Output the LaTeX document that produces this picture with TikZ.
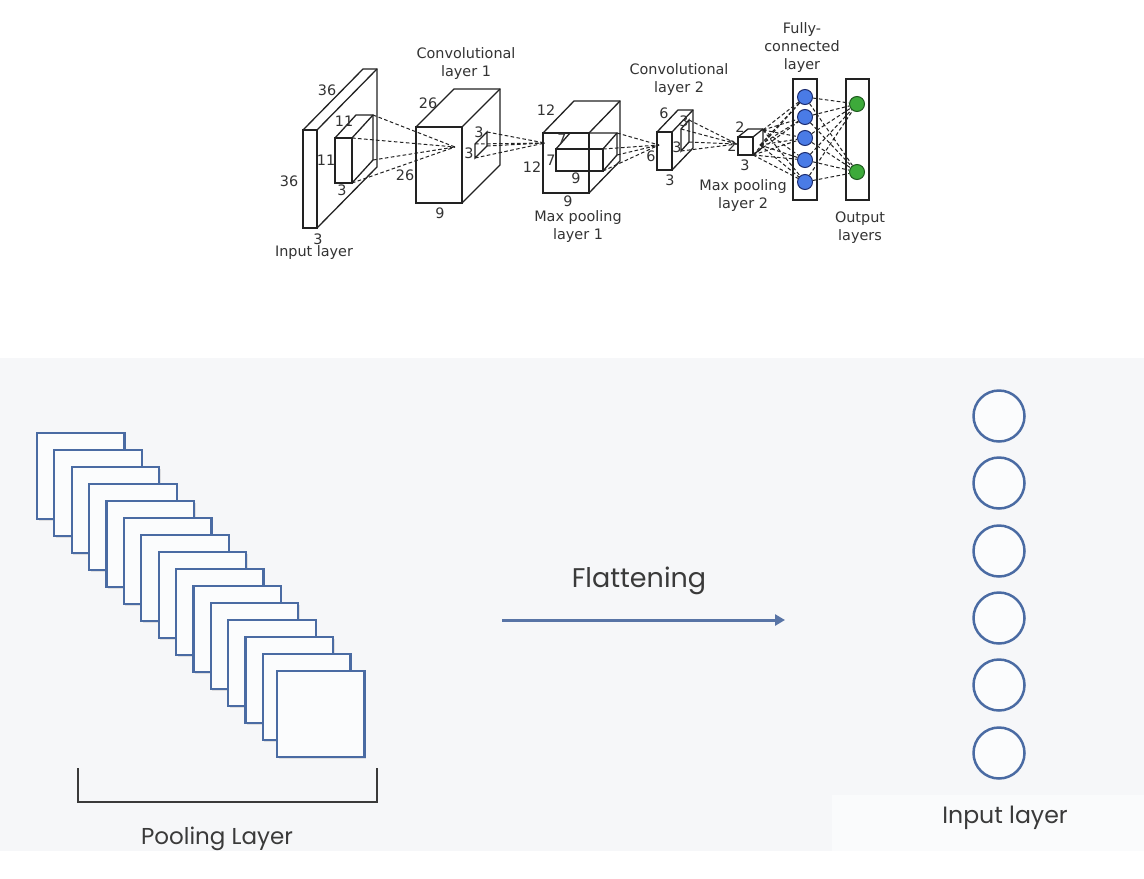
\documentclass[tikz,border=0pt]{standalone}
\usepackage{fontspec}
\setmainfont{DejaVu Sans}
\newfontfamily\pop{Poppins}
\usetikzlibrary{arrows.meta}
\definecolor{wirec}{HTML}{222222}
\definecolor{txtgray}{HTML}{333333}
\definecolor{fcblue}{HTML}{4A7BE6}
\definecolor{fcedge}{HTML}{1C2C70}
\definecolor{outgreen}{HTML}{3DAA3A}
\definecolor{outedge}{HTML}{1E5A1E}
\definecolor{panel}{HTML}{F6F7F9}
\definecolor{sqblue}{HTML}{4A6BA3}
\definecolor{sqfill}{HTML}{FBFCFD}
\definecolor{arrowc}{HTML}{5874A6}
\definecolor{btxt}{HTML}{3A3A3A}
\newcommand\cubo[6]{%
  \draw[wire] (#1,#2) rectangle ++(#3,#4);
  \draw[wire] (#1,#2) -- ++(#5,-#6) -- ++(#3,0) -- ++(0,#4) -- ++(-#5,#6);
  \draw[wire] (#1+#3,#2) -- ++(#5,-#6);}
\begin{document}
\begin{tikzpicture}[x=0.5pt,y=-0.5pt,
  wire/.style={draw=wirec,line width=0.65pt},
  dsh/.style={draw=wirec,line width=0.5pt,dash pattern=on 1.8pt off 1.2pt},
  lbl/.style={font=\fontsize{7.2}{9}\selectfont,text=txtgray,inner sep=0pt,align=center},
  fcn/.style={circle,draw=fcedge,fill=fcblue,line width=0.5pt,minimum size=7.5pt,inner sep=0pt},
  outn/.style={circle,draw=outedge,fill=outgreen,line width=0.5pt,minimum size=7.5pt,inner sep=0pt},
  sqbox/.style={draw=sqblue,fill=sqfill,line width=1.1pt},
  incirc/.style={circle,draw=sqblue,fill=sqfill,line width=1.25pt,minimum size=25.5pt,inner sep=0pt},
  btext/.style={font=\pop,text=btxt,inner sep=0pt,anchor=base}]
\useasboundingbox (0,0) rectangle (1144,878);
\fill[white] (0,0) rectangle (1144,878);

% ---------------- top CNN diagram ----------------
% input layer
\cubo{303}{130}{14}{98}{60}{61}
\cubo{335}{138}{17}{45}{21}{23}
\node[lbl] (t36a) at (327,90) {36};
\node[lbl] (t36b) at (289,181) {36};
\node[lbl] (t3a) at (318,239) {3};
\node[lbl] (t11a) at (344,121) {11};
\node[lbl] (t11b) at (326,160) {11};
\node[lbl] (t3b) at (342,190) {3};
\node[lbl] (inlab) at (314,253) {Input layer};
\coordinate (f1a) at (373,115);
\coordinate (f1b) at (352,138);
\coordinate (f1c) at (373,160);
\coordinate (f1d) at (352,183);
\coordinate (ap1) at (455,147);
\foreach \c in {f1a,f1b,f1c,f1d} \draw[dsh] (\c) -- (ap1);

% conv layer 1
\cubo{416}{127}{46}{76}{38}{38}
\draw[wire] (475,144) -- (487,132) -- (487,146) -- (475,158) -- cycle;
\node[lbl] (c1t) at (466,64) {Convolutional\\layer 1};
\node[lbl] (t26a) at (428,103) {26};
\node[lbl] (t26b) at (405,175) {26};
\node[lbl] (t9a) at (440,213) {9};
\node[lbl] (t3c) at (479,132) {3};
\node[lbl] (t3d) at (469,153) {3};
\coordinate (q1a) at (487,132);
\coordinate (q1b) at (475,144);
\coordinate (q1c) at (487,146);
\coordinate (q1d) at (475,158);
\coordinate (ap2) at (545,143);
\foreach \c in {q1a,q1b,q1c,q1d} \draw[dsh] (\c) -- (ap2);

% max pooling layer 1
\cubo{543}{133}{46}{60}{31}{32}
\cubo{556}{149}{47}{22}{14}{16}
\node[lbl] (t12a) at (546,110) {12};
\node[lbl] (t12b) at (532,167) {12};
\node[lbl] (t9b) at (568,201) {9};
\node[lbl] (t7a) at (562,139) {7};
\node[lbl] (t7b) at (551,160) {7};
\node[lbl] (t9c) at (576,178) {9};
\node[lbl] (p1t) at (578,227) {Max pooling\\layer 1};
\coordinate (r1a) at (617,133);
\coordinate (r1b) at (617,155);
\coordinate (r1c) at (603,149);
\coordinate (r1d) at (603,171);
\coordinate (ap3) at (659,145);
\foreach \c in {r1a,r1b,r1c,r1d} \draw[dsh] (\c) -- (ap3);

% conv layer 2
\cubo{657}{132}{15}{38}{21}{22}
\draw[wire] (681,129) -- (689,120) -- (689,142) -- (681,151) -- cycle;
\node[lbl] (c2t) at (679,80) {Convolutional\\layer 2};
\node[lbl] (t6a) at (664,113) {6};
\node[lbl] (t6b) at (651,156) {6};
\node[lbl] (t3e) at (670,180) {3};
\node[lbl] (t3f) at (684,121) {3};
\node[lbl] (t3g) at (677,147) {3};
\coordinate (q2a) at (689,120);
\coordinate (q2b) at (681,129);
\coordinate (q2c) at (689,142);
\coordinate (q2d) at (681,151);
\coordinate (ap4) at (737,144);
\foreach \c in {q2a,q2b,q2c,q2d} \draw[dsh] (\c) -- (ap4);

% max pooling layer 2
\cubo{738}{137}{15}{18}{10}{8}
\node[lbl] (t2a) at (740,127) {2};
\node[lbl] (t2b) at (732,146) {2};
\node[lbl] (t3h) at (745,165) {3};
\node[lbl] (p2t) at (743,196) {Max pooling\\layer 2};
\coordinate (p2a) at (763,130);
\coordinate (p2b) at (760,145);
\coordinate (p2c) at (753,155);

% fully connected
\node[wire,draw,minimum width=12pt,minimum height=60.5pt,inner sep=0pt] (fcbox) at (805,139.5) {};
\node[lbl] (fct) at (802,48) {Fully-\\connected\\layer};
\foreach \i/\y in {1/97,2/117,3/138,4/160,5/182} \node[fcn] (f\i) at (805,\y) {};
% output
\node[wire,draw,minimum width=11.5pt,minimum height=60.5pt,inner sep=0pt] (outbox) at (857.5,139.5) {};
\node[outn] (o1) at (857,104) {};
\node[outn] (o2) at (857,172) {};
\node[lbl] (outt) at (860,228) {Output\\layers};
\foreach \i in {1,...,5} {\draw[dsh] (p2a) -- (f\i); \draw[dsh] (p2b) -- (f\i); \draw[dsh] (p2c) -- (f\i);}
\foreach \i in {1,...,5} {\draw[dsh] (f\i) -- (o1); \draw[dsh] (f\i) -- (o2);}

% ---------------- bottom flattening panel ----------------
\fill[panel] (0,358) rectangle (1144,851);
\fill[white!50!panel] (832,795) rectangle (1144,851);
\foreach \i in {0,...,13} {
  \pgfmathsetmacro\sx{37+17.38*\i}
  \pgfmathsetmacro\sy{433+17*\i}
  \fill[black!30,opacity=0.35] (\sx+1.5,\sy+1.5) rectangle ++(87.5,86);
  \draw[sqbox] (\sx,\sy) rectangle ++(87.5,86);
}
\fill[black!30,opacity=0.35] (278.5,672.5) rectangle ++(87.5,86);
\draw[sqbox] (277,671) rectangle ++(87.5,86);
\draw[draw=btxt,line width=1pt] (78,768) -- (78,802) -- (377,802) -- (377,768);
\begin{scope}
\clip (0,358) rectangle (1144,851);
\node[btext,font=\pop\fontsize{11.5}{13}\selectfont] (plab) at (217,844) {Pooling Layer};
\end{scope}
\node[btext,font=\pop\fontsize{13.5}{15}\selectfont] (flab) at (639,587) {Flattening};
\coordinate (arS) at (502,620);
\coordinate (arE) at (785,620);
\draw[draw=arrowc,line width=1.5pt,-{Triangle[length=5pt,width=5.5pt]}] (arS) -- (arE);
\foreach \i/\y in {1/416,2/483,3/551,4/618,5/685,6/753} \node[incirc] (n\i) at (999,\y) {};
\node[btext,font=\pop\fontsize{11.8}{13}\selectfont] (ilab) at (1005,823) {Input layer};
\end{tikzpicture}
\end{document}
